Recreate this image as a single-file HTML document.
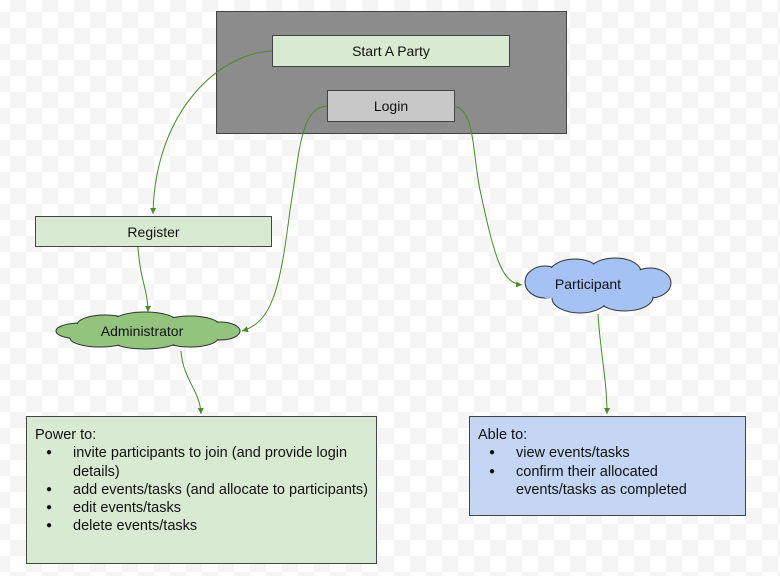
<!DOCTYPE html>
<html><head><meta charset="utf-8"><style>
html,body{margin:0;padding:0}
body{width:780px;height:576px;overflow:hidden;position:relative;font-family:"Liberation Sans",Arial,sans-serif;
background-color:#fff;
background-image:linear-gradient(45deg,#f5f5f5 25%,transparent 25%,transparent 75%,#f5f5f5 75%),linear-gradient(45deg,#f5f5f5 25%,transparent 25%,transparent 75%,#f5f5f5 75%);
background-size:32px 32px;background-position:10px 12px,26px 28px;}
.b{position:absolute;box-sizing:border-box;border:1px solid #444;}
.c{display:flex;align-items:center;justify-content:center;font-size:14px;color:#111}
.t{font-size:14.5px;line-height:18.3px;color:#111;padding:9px 8px}
ul{margin:0;padding:0 0 0 38px;list-style:none}
li{position:relative}
li:before{content:"●";position:absolute;left:-27px;font-size:10px}
svg{position:absolute;left:0;top:0}
</style></head><body>
<div class="b" style="left:216px;top:11px;width:351px;height:123px;background:#8c8c8c"></div>
<div class="b c" style="left:272px;top:35px;width:238px;height:32px;background:#d9ead3">Start A Party</div>
<div class="b c" style="left:327px;top:90px;width:128px;height:32px;background:#c8c8c8">Login</div>
<div class="b c" style="left:35px;top:216px;width:237px;height:31px;background:#d9ead3">Register</div>
<div class="b t" style="left:26px;top:416px;width:351px;height:148px;background:#d9ead3">Power to:
<ul><li>invite participants to join (and provide login details)</li><li>add events/tasks (and allocate to participants)</li><li>edit events/tasks</li><li>delete events/tasks</li></ul></div>
<div class="b t" style="left:469px;top:416px;width:277px;height:100px;background:#c4d6f4">Able to:
<ul><li>view events/tasks</li><li>confirm their allocated events/tasks as completed</li></ul></div>
<svg width="780" height="576" viewBox="0 0 780 576">
<defs><marker id="a" markerWidth="8" markerHeight="8" refX="6" refY="3" orient="auto" markerUnits="userSpaceOnUse"><path d="M0,0 L6,3 L0,6 z" fill="#4a8a2a"/></marker></defs>
<g fill="none" stroke="#4a8a2a" stroke-width="1" marker-end="url(#a)">
<path d="M272,51 C220,53 155,110 153,214"/>
<path d="M327,106 C300,108 300,150 290,210 C280,290 272,322 242,331"/>
<path d="M454,106 C475,110 472,150 480,190 C495,260 502,283 522,285"/>
<path d="M138,247 C140,280 148,290 148,312"/>
<path d="M181,351 C183,380 200,390 201,414"/>
<path d="M598,314 C600,350 607,380 607,414"/>
</g>
<g id="ad">
<g fill="#93c47d" stroke="#333" stroke-width="1">
<ellipse cx="80" cy="331" rx="24" ry="8"/><ellipse cx="105" cy="325" rx="28" ry="10"/><ellipse cx="145" cy="322" rx="32" ry="10"/>
<ellipse cx="190" cy="326" rx="30" ry="10"/><ellipse cx="220" cy="331" rx="20" ry="9"/><ellipse cx="190" cy="338" rx="28" ry="9"/>
<ellipse cx="145" cy="341" rx="32" ry="8"/><ellipse cx="100" cy="338" rx="30" ry="9"/></g>
<g fill="#93c47d">
<ellipse cx="80" cy="331" rx="23" ry="7"/><ellipse cx="105" cy="325" rx="27" ry="9"/><ellipse cx="145" cy="322" rx="31" ry="9"/>
<ellipse cx="190" cy="326" rx="29" ry="9"/><ellipse cx="220" cy="331" rx="19" ry="8"/><ellipse cx="190" cy="338" rx="27" ry="8"/>
<ellipse cx="145" cy="341" rx="31" ry="7"/><ellipse cx="100" cy="338" rx="29" ry="8"/><rect x="70" y="325" width="160" height="13"/></g>
</g>
<g fill="#a4c2f4" stroke="#333" stroke-width="1">
<ellipse cx="545" cy="282" rx="20" ry="16"/><ellipse cx="575" cy="274" rx="26" ry="15"/><ellipse cx="615" cy="272" rx="26" ry="14"/>
<ellipse cx="650" cy="283" rx="21" ry="15"/><ellipse cx="625" cy="297" rx="28" ry="14"/><ellipse cx="580" cy="298" rx="28" ry="15"/></g>
<g fill="#a4c2f4">
<ellipse cx="545" cy="282" rx="19" ry="15"/><ellipse cx="575" cy="274" rx="25" ry="14"/><ellipse cx="615" cy="272" rx="25" ry="13"/>
<ellipse cx="650" cy="283" rx="20" ry="14"/><ellipse cx="625" cy="297" rx="27" ry="13"/><ellipse cx="580" cy="298" rx="27" ry="14"/>
<rect x="545" y="272" width="105" height="26"/></g>
<text x="142" y="336" font-family="Liberation Sans,Arial,sans-serif" font-size="14" text-anchor="middle" fill="#111">Administrator</text>
<text x="588" y="289" font-family="Liberation Sans,Arial,sans-serif" font-size="14" text-anchor="middle" fill="#111">Participant</text>
</svg>
</body></html>
